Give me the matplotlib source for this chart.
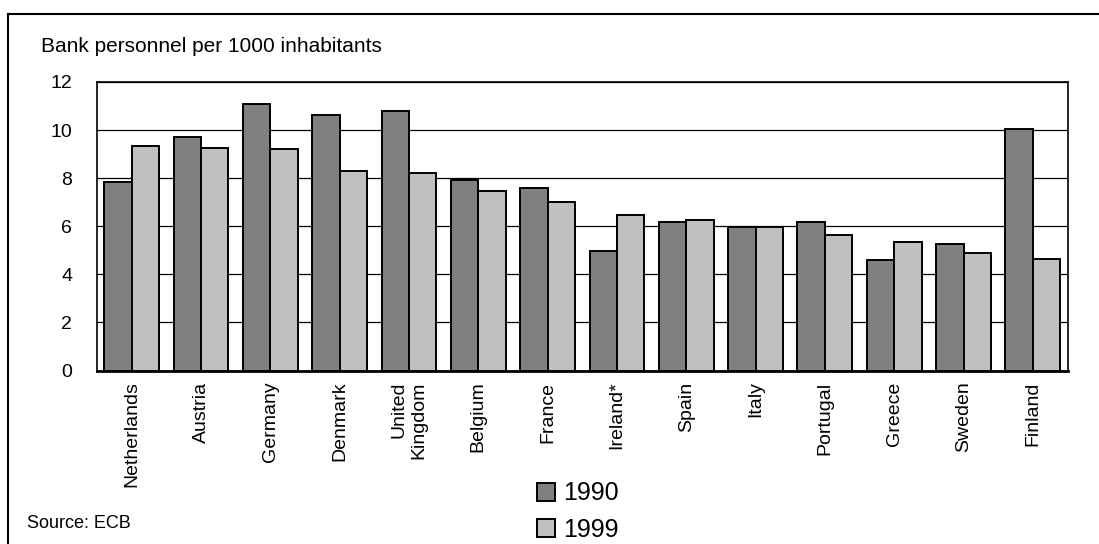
import matplotlib
matplotlib.use("Agg")
import matplotlib.pyplot as plt
from matplotlib.patches import Patch
from matplotlib.lines import Line2D
import numpy as np

plt.rcParams['font.family'] = ['Liberation Sans', 'DejaVu Sans']

countries = ["Netherlands", "Austria", "Germany", "Denmark", "United\nKingdom",
             "Belgium", "France", "Ireland*", "Spain", "Italy", "Portugal",
             "Greece", "Sweden", "Finland"]
v1990 = [7.83, 9.73, 11.09, 10.64, 10.78, 7.92, 7.60, 4.97, 6.16, 5.96, 6.18, 4.60, 5.27, 10.03]
v1999 = [9.34, 9.27, 9.20, 8.30, 8.22, 7.47, 7.01, 6.47, 6.25, 5.96, 5.65, 5.35, 4.89, 4.65]
series_labels = ["1990", "1999"]
yticks = [0, 2, 4, 6, 8, 10, 12]

W, H = 1099, 544
fig = plt.figure(figsize=(W / 100, H / 100), dpi=100)
ax = fig.add_axes([97 / W, 1 - 370.5 / H, (1067.5 - 97) / W, (370.5 - 82) / H])

x = np.arange(len(countries))
bw = 0.395
ax.bar(x - bw / 2, v1990, bw, color="#808080", edgecolor="black", linewidth=1.4, zorder=3)
ax.bar(x + bw / 2, v1999, bw, color="#c0c0c0", edgecolor="black", linewidth=1.4, zorder=3)

ax.set_xlim(-0.5, len(countries) - 0.5)
ax.set_ylim(0, 12)
ax.set_yticks(yticks)
ax.set_yticklabels([str(t) for t in yticks], fontsize=14)
ax.set_xticks(x)
ax.set_xticklabels(countries, rotation=90, fontsize=14, va="top", ha="center",
                   multialignment="right")
ax.tick_params(axis="both", length=0)
ax.tick_params(axis="y", pad=18)
ax.tick_params(axis="x", pad=8)
ax.yaxis.grid(True, color="black", linewidth=0.9, zorder=0)
ax.set_axisbelow(True)
for s in ax.spines.values():
    s.set_color("black")
    s.set_linewidth(1.2)
ax.spines["bottom"].set_linewidth(2.0)

fig.text(41 / W, 1 - 46 / H, "Bank personnel per 1000 inhabitants", fontsize=15,
         ha="left", va="center")
fig.text(27 / W, 1 - 524 / H, "Source: ECB", fontsize=13, ha="left", va="center")

handles = [Patch(facecolor="#808080", edgecolor="black", linewidth=1.4),
           Patch(facecolor="#c0c0c0", edgecolor="black", linewidth=1.4)]
fig.legend(handles, series_labels, loc="upper left",
           bbox_to_anchor=(519 / W, 1 - 464 / H), frameon=False, fontsize=18,
           handlelength=0.72, handleheight=0.75, handletextpad=0.35,
           labelspacing=0.5, borderpad=0.2)

# outer frame
fig.add_artist(Line2D([8 / W, 8 / W], [0, 1 - 14 / H], color="black", linewidth=1.5,
                      transform=fig.transFigure))
fig.add_artist(Line2D([8 / W, 1], [1 - 14 / H, 1 - 14 / H], color="black", linewidth=1.5,
                      transform=fig.transFigure))

fig.savefig("out.png", dpi=100)
